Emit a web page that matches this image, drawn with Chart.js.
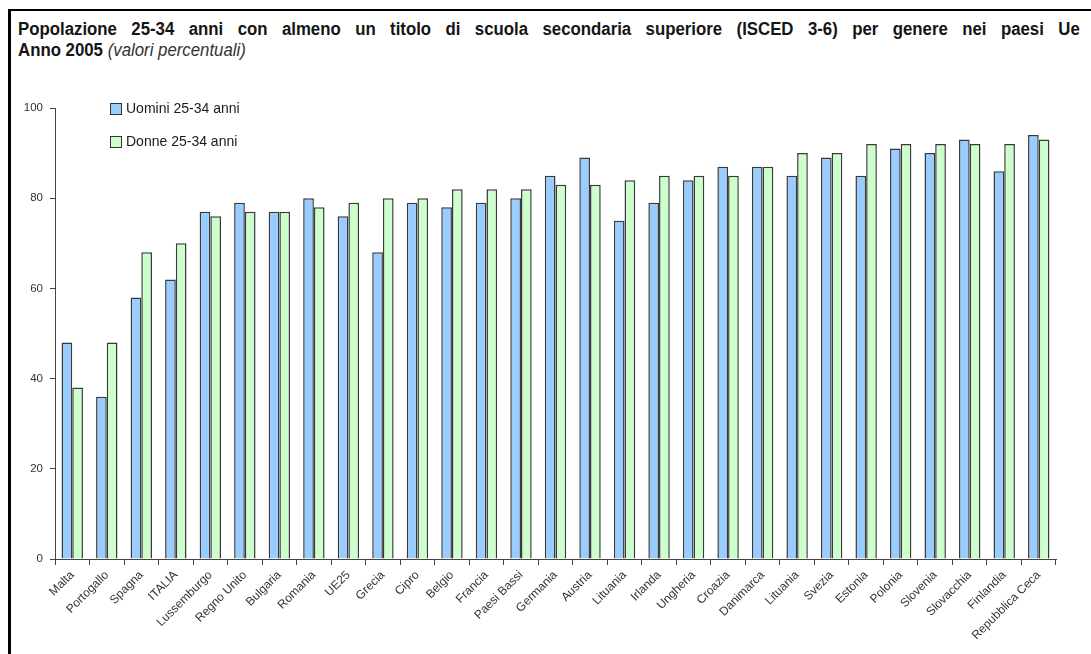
<!DOCTYPE html>
<html>
<head>
<meta charset="utf-8">
<script src="https://cdn.jsdelivr.net/npm/chart.js@4.4.1/dist/chart.umd.min.js"></script>
<style>
  html, body { margin: 0; padding: 0; background: #fff; overflow: hidden; }
  #wrap { position: relative; width: 1091px; height: 654px; overflow: hidden; }
  #frame { position: absolute; left: 8px; top: 9px; width: 1100px; height: 700px;
           border-top: 2px solid #000; border-left: 3px solid #000; }
  /* slightly squeezed sans, close to the original's Arial look */
  #title { position: absolute; left: 18px; top: 19px; width: 1106px;
           transform: scaleX(0.96); transform-origin: 0 0;
           font-family: "Liberation Sans Narrow", "Arial Narrow", "Liberation Sans", sans-serif;
           font-size: 17.5px; line-height: 21px; color: #151515; }
  #title .l1 { font-weight: bold; text-align: justify; text-align-last: justify; white-space: nowrap; }
  #title .l2 { font-weight: bold; }
  #title .l2 i { font-weight: normal; color: #333; }
  canvas { position: absolute; left: 0; top: 0; }
</style>
</head>
<body>
<div id="wrap">
  <div id="frame"></div>
  <div id="title">
    <div class="l1">Popolazione 25-34 anni con almeno un titolo di scuola secondaria superiore (ISCED 3-6) per genere nei paesi Ue</div>
    <div class="l2">Anno 2005 <i>(valori percentuali)</i></div>
  </div>
  <canvas id="myChart" width="1091" height="654"></canvas>
</div>
<script>
const ctx = document.getElementById("myChart");

const countries = ["Malta", "Portogallo", "Spagna", "ITALIA", "Lussemburgo", "Regno Unito", "Bulgaria",
  "Romania", "UE25", "Grecia", "Cipro", "Belgio", "Francia", "Paesi Bassi", "Germania", "Austria",
  "Lituania", "Irlanda", "Ungheria", "Croazia", "Danimarca", "Lituania", "Svezia", "Estonia",
  "Polonia", "Slovenia", "Slovacchia", "Finlandia", "Repubblica Ceca"];
const uomini = [48, 36, 58, 62, 77, 79, 77, 80, 76, 68, 79, 78, 79, 80, 85, 89, 75, 79, 84, 87, 87, 85, 89, 85, 91, 90, 93, 86, 94];
const donne = [38, 48, 68, 70, 76, 77, 77, 78, 79, 80, 80, 82, 82, 82, 83, 83, 84, 85, 85, 85, 87, 90, 90, 92, 92, 92, 92, 92, 93];
const yTicks = [0, 20, 40, 60, 80, 100];

const narrow = '"Liberation Sans Narrow", "Arial Narrow", "Liberation Sans", sans-serif';

Chart.defaults.font.family = narrow;
Chart.defaults.color = "#333333";

// legend drawn inside the plot, top left, stacked
const boxLegend = {
  id: "boxLegend",
  afterDraw(chart) {
    const c = chart.ctx;
    const area = chart.chartArea;
    c.save();
    c.font = "14px " + narrow;
    c.textBaseline = "middle";
    chart.data.datasets.forEach((ds, i) => {
      const x = area.left + 55;
      const y = area.top - 5 + i * 33;
      c.fillStyle = ds.backgroundColor;
      c.fillRect(x, y, 11, 11);
      c.strokeStyle = "#333";
      c.lineWidth = 1;
      c.strokeRect(x + 0.5, y + 0.5, 11, 11);
      c.fillStyle = "#1a1a1a";
      c.fillText(ds.label, x + 16, y + 6);
    });
    c.restore();
  },
};

const chart = new Chart(ctx, {
  type: "bar",
  data: {
    labels: countries,
    datasets: [
      {
        label: "Uomini 25-34 anni",
        data: uomini,
        backgroundColor: "#99ccff",
        borderColor: "#3a3a3a",
        borderWidth: 1.5,
        categoryPercentage: 0.62,
        barPercentage: 1,
      },
      {
        label: "Donne 25-34 anni",
        data: donne,
        backgroundColor: "#ccffcc",
        borderColor: "#3a3a3a",
        borderWidth: 1.5,
        categoryPercentage: 0.62,
        barPercentage: 1,
      },
    ],
  },
  options: {
    responsive: false,
    animation: false,
    layout: { padding: { top: 108, right: 35, left: 0, bottom: 0 } },
    plugins: {
      legend: { display: false },
      tooltip: { enabled: false },
    },
    scales: {
      x: {
        grid: { display: true, drawOnChartArea: false, drawTicks: true, tickLength: 6, color: "#444", offset: true },
        border: { display: true, color: "#444", width: 1 },
        ticks: {
          autoSkip: false,
          minRotation: 45,
          maxRotation: 45,
          padding: 3,
          color: "#333",
          font: { size: 12 },
        },
        afterFit(scale) { scale.height = 95; },
      },
      y: {
        min: 0,
        max: 100,
        afterBuildTicks(scale) { scale.ticks = yTicks.map((v) => ({ value: v })); },
        grid: { display: true, drawOnChartArea: false, drawTicks: true, tickLength: 5, color: "#444" },
        border: { display: true, color: "#444", width: 1 },
        ticks: { padding: 7, color: "#333", font: { size: 11.5 } },
        afterFit(scale) { scale.width = 55; },
      },
    },
  },
  plugins: [boxLegend],
});
</script>
</body>
</html>
